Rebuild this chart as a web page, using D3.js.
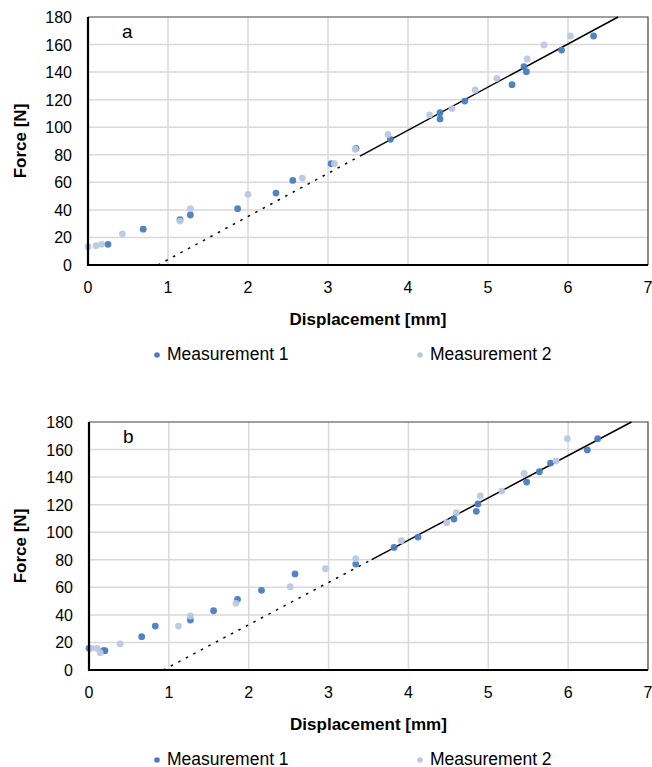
<!DOCTYPE html>
<html>
<head>
<meta charset="utf-8">
<script src="https://cdn.jsdelivr.net/npm/d3@7.9.0/dist/d3.min.js"></script>
<style>
  body { margin: 0; background: #fff; }
  text { font-family: "Liberation Sans", Arial, sans-serif; fill: #000; }
</style>
</head>
<body>
<svg id="chart" width="652" height="767"></svg>
<script>
// ====== Data (displacement mm, force N) ======
const xTicks = [0, 1, 2, 3, 4, 5, 6, 7];
const yTicks = [0, 20, 40, 60, 80, 100, 120, 140, 160, 180];
const seriesNames = ['Measurement 1', 'Measurement 2'];

const aMeas1 = [
  [0.25, 15], [0.69, 26], [1.15, 32.9], [1.28, 36.3], [1.87, 40.9], [2.35, 52.2],
  [2.56, 61.4], [3.04, 73.5], [3.35, 84.7], [3.78, 91.2], [4.4, 110.5], [4.4, 106],
  [4.71, 119], [5.3, 130.9], [5.45, 143.9], [5.48, 140.3], [5.92, 156], [6.32, 166.2]
];
const aMeas2 = [
  [0, 13.3], [0.1, 14], [0.17, 15], [0.43, 22.5], [1.15, 31.9], [1.28, 40.9],
  [2.0, 51.3], [2.68, 63.1], [3.08, 73.5], [3.34, 84], [3.75, 94.8], [4.27, 108.9],
  [4.55, 113.5], [4.84, 127], [5.11, 135.5], [5.49, 149.5], [5.7, 159.7], [6.03, 166.2]
];
const bMeas1 = [
  [0, 15.7], [0.18, 14], [0.2, 14], [0.66, 24.2], [0.83, 31.9], [1.27, 36.3],
  [1.56, 43], [1.86, 51.3], [2.16, 57.8], [2.58, 69.7], [3.34, 76.9], [3.82, 89],
  [4.12, 96.5], [4.57, 109.6], [4.85, 115.2], [4.87, 120.5], [5.48, 136.4],
  [5.64, 143.9], [5.78, 150.2], [6.24, 159.7], [6.37, 167.9]
];
const bMeas2 = [
  [0.03, 15.7], [0.1, 15.7], [0.14, 12.6], [0.39, 18.9], [1.12, 31.9], [1.27, 39.2],
  [1.84, 48.4], [2.52, 60.5], [2.96, 73.5], [3.34, 80.8], [3.91, 93.8], [4.48, 106.9],
  [4.6, 114.2], [4.9, 126.3], [5.17, 129.9], [5.45, 142.7], [5.85, 151.7], [5.99, 167.9]
];
// linear fit: x-intercept, slope, start of solid part
const aFit = { x0: 0.875, slope: 31.3, solidFrom: 3.4 };
const bFit = { x0: 0.93, slope: 30.7, solidFrom: 3.54 };

const colors = ['#4a7dbf', '#b9c8e3'];
const svg = d3.select('#chart');

function drawPanel(opts) {
  const { left, top, width, height, label, sets, fit } = opts;
  const g = svg.append('g');
  const x = d3.scaleLinear().domain([0, 7]).range([left, left + width]);
  const y = d3.scaleLinear().domain([0, 180]).range([top + height, top]);
  const base = top + height;

  // gridlines
  g.selectAll('.vg').data(xTicks.slice(1, -1)).join('line')
    .attr('x1', d => x(d)).attr('x2', d => x(d))
    .attr('y1', y(0)).attr('y2', y(180))
    .attr('stroke', '#d9d9d9').attr('stroke-width', 1.5);
  g.selectAll('.hg').data(yTicks.slice(1, -1)).join('line')
    .attr('x1', x(0)).attr('x2', x(7))
    .attr('y1', d => y(d)).attr('y2', d => y(d))
    .attr('stroke', '#d9d9d9').attr('stroke-width', 1.5);

  // frame (top + right)
  g.append('path')
    .attr('d', `M${x(0)},${y(180)}H${x(7)}V${y(0)}`)
    .attr('fill', 'none').attr('stroke', '#404040').attr('stroke-width', 1.2);

  // trend line
  const f = v => fit.slope * (v - fit.x0);
  const xTop = fit.x0 + 180 / fit.slope;
  g.append('line')
    .attr('x1', x(fit.x0)).attr('y1', y(0))
    .attr('x2', x(fit.solidFrom)).attr('y2', y(f(fit.solidFrom)))
    .attr('stroke', '#000').attr('stroke-width', 1.5)
    .attr('stroke-dasharray', '2.5,6');
  g.append('line')
    .attr('x1', x(fit.solidFrom)).attr('y1', y(f(fit.solidFrom)))
    .attr('x2', x(xTop)).attr('y2', y(180))
    .attr('stroke', '#000').attr('stroke-width', 1.5);

  // points
  sets.forEach((pts, i) => {
    g.append('g').selectAll('circle').data(pts).join('circle')
      .attr('cx', d => x(d[0])).attr('cy', d => y(d[1]))
      .attr('r', 3.4).attr('fill', colors[i]).attr('opacity', 0.95);
  });

  // axes lines (left + bottom)
  g.append('path')
    .attr('d', `M${x(0)},${y(180)}V${y(0)}H${x(7)}`)
    .attr('fill', 'none').attr('stroke', '#000').attr('stroke-width', 2.2);

  // tick labels
  g.selectAll('.yt').data(yTicks).join('text')
    .attr('x', left - 16).attr('y', d => y(d) + 6)
    .attr('text-anchor', 'end').attr('font-size', 16)
    .text(d => d);
  g.selectAll('.xt').data(xTicks).join('text')
    .attr('x', d => x(d)).attr('y', base + 28)
    .attr('text-anchor', 'middle').attr('font-size', 16)
    .text(d => d);

  // titles
  g.append('text')
    .attr('x', x(3.5)).attr('y', base + 60)
    .attr('text-anchor', 'middle').attr('font-size', 17).attr('font-weight', 'bold')
    .text('Displacement [mm]');
  g.append('text')
    .attr('transform', `translate(26,${top + height / 2}) rotate(-90)`)
    .attr('text-anchor', 'middle').attr('font-size', 17).attr('font-weight', 'bold')
    .text('Force [N]');

  // panel label
  g.append('text')
    .attr('x', left + 34).attr('y', top + 21)
    .attr('font-size', 19).text(label);

  // legend
  const lx = [157, 420];
  seriesNames.forEach((name, i) => {
    g.append('circle').attr('cx', lx[i]).attr('cy', base + 90)
      .attr('r', 2.8).attr('fill', colors[i]);
    g.append('text').attr('x', lx[i] + 10).attr('y', base + 95)
      .attr('font-size', 17.5).text(name);
  });
}

drawPanel({ left: 88, top: 17, width: 560, height: 248, label: 'a',
  sets: [aMeas1, aMeas2], fit: aFit });
drawPanel({ left: 89, top: 422, width: 559, height: 248, label: 'b',
  sets: [bMeas1, bMeas2], fit: bFit });
</script>
</body>
</html>
